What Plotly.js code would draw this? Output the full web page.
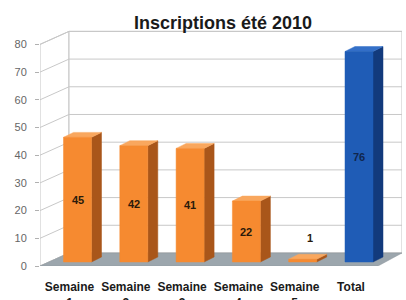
<!DOCTYPE html>
<html><head><meta charset="utf-8">
<script src="https://cdn.plot.ly/plotly-3.0.1.min.js"></script>
<style>html,body{margin:0;padding:0;background:#fff}#c{width:406px;height:300px}</style>
</head><body><div id="c"></div>
<script>
const categories = ["Semaine 1","Semaine 2","Semaine 3","Semaine 4","Semaine 5","Total"];
const tickLabels = ["Semaine<br>1","Semaine<br>2","Semaine<br>3","Semaine<br>4","Semaine<br>5","Total"];
const values = [45, 42, 41, 22, 1, 76];
const yTicks = [0, 10, 20, 30, 40, 50, 60, 70, 80];
const barColors = ["orange","orange","orange","orange","orange","blue"];

const palette = {
  orange: {front:"#F68A30", side:"#A9561A", top:"#F9A75E", text:"#2a1a0a"},
  blue:   {front:"#1F5CB6", side:"#123A7C", top:"#3470C8", text:"#10264d"}
};

// geometry (axis units)
const X0 = 37.5, STEP = 56.3, HALF = 14;     // bar front centres and half width
const DEPX = 29, DEPY = 4.7;                  // wall depth
const BX = 10, BY = 1.8;                      // bar depth
const BASE = 1.44;                            // bar base (mid depth)
const XMAX = 362, YMAX = 85.2;
const TOP = yTicks[yTicks.length-1];

const traces = [];
function poly(xs, ys, fill, line, lw) {
  traces.push({type:"scatter", mode:"lines", x:xs, y:ys, fill:"toself", fillcolor:fill,
    line:{color:line||fill, width:lw===undefined?0.5:lw}, hoverinfo:"skip", showlegend:false});
}
function seg(xs, ys, color) {
  traces.push({type:"scatter", mode:"lines", x:xs, y:ys, line:{color:color, width:1},
    hoverinfo:"skip", showlegend:false});
}

// walls
poly([0, DEPX, DEPX, 0, 0], [0, DEPY, TOP+DEPY, TOP, 0], "#ffffff", "#c4c4c4", 1);
poly([DEPX, XMAX, XMAX, DEPX, DEPX], [DEPY, DEPY, TOP+DEPY, TOP+DEPY, DEPY], "#ffffff", "#c4c4c4", 1);
yTicks.forEach(t => {
  seg([0, DEPX], [t, t+DEPY], "#c8c8c8");
  seg([DEPX, XMAX], [t+DEPY, t+DEPY], "#c8c8c8");
});
// floor
poly([0, DEPX, XMAX, XMAX-DEPX+5, 0], [0, DEPY, DEPY, 0, 0], "#9ca6ad", "#8d969c", 0.5);

// bars
const annotations = [];
values.forEach((v, i) => {
  const c = X0 + i*STEP, p = palette[barColors[i]];
  const l = c - HALF, r = c + HALF, b = BASE, t = BASE + v;
  poly([r, r+BX, r+BX, r, r], [b, b+BY, t+BY, t, b], p.side);
  poly([l, r, r+BX, l+BX, l], [t, t, t+BY, t+BY, t], p.top);
  poly([l, r, r, l, l], [b, b, t, t, b], p.front);
  const small = v < 5;
  annotations.push({x: small ? c+7 : c, y: small ? t+7.5 : b + v/2, xref:"x", yref:"y",
    text:String(v), showarrow:false,
    font:{family:"Liberation Sans, Arial, sans-serif", size:11, color:p.text, weight:"bold"}});
});

const tickPos = values.map((v, i) => X0 + i*STEP - 8);

annotations.push({text:"Inscriptions été 2010", xref:"paper", yref:"paper", x:0.505, y:1, yanchor:"bottom",
  yshift:-5, showarrow:false,
  font:{family:"Liberation Sans, Arial, sans-serif", size:18, color:"#1a1a1a", weight:"bold"}});

const layout = {
  width:406, height:300,
  margin:{l:40, r:4, t:30, b:34},
  paper_bgcolor:"#ffffff", plot_bgcolor:"rgba(0,0,0,0)",
  showlegend:false,
  xaxis:{range:[0, XMAX], showgrid:false, zeroline:false, showline:false, ticks:"",
    tickmode:"array", tickvals:tickPos, ticktext:tickLabels, ticklabelstandoff:12,
    tickfont:{family:"Liberation Sans, Arial, sans-serif", size:12, color:"#1a1a1a", weight:"bold"},
    fixedrange:true},
  yaxis:{range:[0, YMAX], showgrid:false, zeroline:false, showline:false,
    tickmode:"array", tickvals:yTicks, ticks:"outside", ticklen:4, tickcolor:"#b0b0b0",
    ticklabelstandoff:6,
    tickfont:{family:"Liberation Sans, Arial, sans-serif", size:11, color:"#666666"},
    fixedrange:true},
  annotations:annotations
};
Plotly.newPlot("c", traces, layout, {staticPlot:true, displayModeBar:false});
</script></body></html>
